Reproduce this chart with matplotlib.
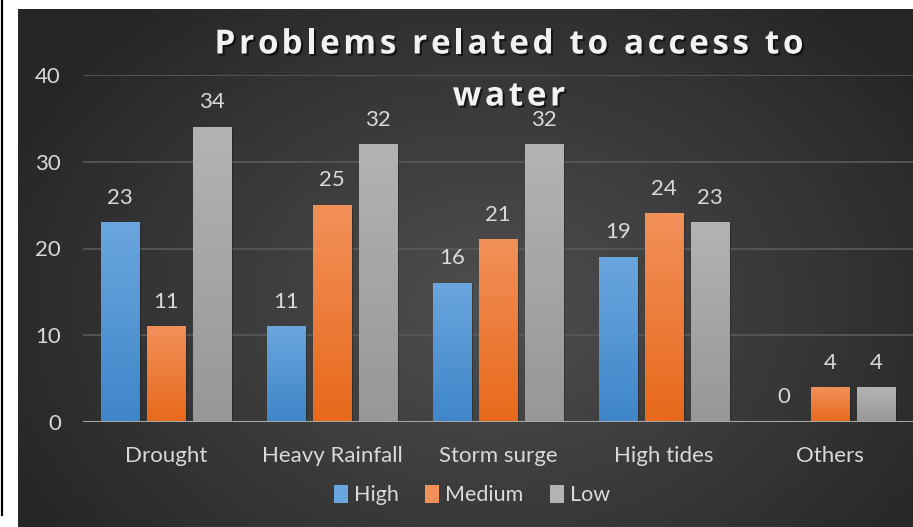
import matplotlib.pyplot as plt
import matplotlib.patheffects as pe
import numpy as np
from matplotlib.patches import Rectangle
from matplotlib.colors import LinearSegmentedColormap

plt.rcParams['font.family'] = ['Lato', 'DejaVu Sans']

categories = ['Drought', 'Heavy Rainfall', 'Storm surge', 'High tides', 'Others']
high = [23, 11, 16, 19, 0]
medium = [11, 25, 21, 24, 4]
low = [34, 32, 32, 23, 4]
series = [('High', high, '#6aa6de', '#3f86c9'),
          ('Medium', medium, '#f2905a', '#e8691b'),
          ('Low', low, '#b3b3b3', '#979797')]
title_lines = ['Problems related to access to', 'water']

W, H = 913, 527
fig = plt.figure(figsize=(W / 100, H / 100), dpi=100, facecolor='white')

# thin black rule at the left edge
fig.add_artist(plt.Line2D([1.5 / W, 1.5 / W], [1 - 515 / H, 1], color='black', lw=1.6))

# dark chart area with a radial gradient
bg = fig.add_axes([17.5 / W, 0, 1 - 17.5 / W, 1 - 9 / H])
bg.set_axis_off()
yy, xx = np.mgrid[0:518, 0:896]
r = np.sqrt(((xx - 470) / 560.0) ** 2 + ((yy - 300) / 420.0) ** 2)
shade = np.clip(0.31 - 0.17 * r, 0.15, 0.31)
bg.imshow(np.dstack([shade] * 3), aspect='auto', extent=[0, 1, 0, 1], origin='upper')
bg.set_xlim(0, 1)
bg.set_ylim(0, 1)

ax = fig.add_axes([83 / W, 1 - 422 / H, 1 - 83 / W, (422 - 75) / H])
ax.set_facecolor('none')
ax.set_xlim(-0.5, 4.5)
ax.set_ylim(0, 40)
ax.set_yticks([0, 10, 20, 30, 40])
ax.yaxis.grid(True, color='#5a5a5a', lw=1.2)
ax.set_axisbelow(True)
for s in ax.spines.values():
    s.set_visible(False)
ax.axhline(0, color='#a6a6a6', lw=2.2, zorder=4)
ax.tick_params(length=0, labelsize=16, colors='#d9d9d9')
ax.set_xticks(range(len(categories)))
ax.set_xticklabels(categories)
ax.tick_params(axis='x', pad=17)
ax.tick_params(axis='y', pad=16)

x = np.arange(len(categories))
width = 0.229
step = 0.277
grad = np.linspace(0, 1, 100).reshape(-1, 1)
for i, (name, vals, top, bot) in enumerate(series):
    xs = x + (i - 1) * step
    cmap = LinearSegmentedColormap.from_list(name, [bot, top])
    bars = ax.bar(xs, vals, width, color=top, label=name, zorder=3)
    for b, v in zip(bars, vals):
        bx, bw = b.get_x(), b.get_width()
        if v > 0:
            # soft shadow to the right of the bar
            ax.add_patch(Rectangle((bx + 0.012, 0), bw, v - 0.25, color='black',
                                   alpha=0.25, zorder=2.5, lw=0))
            ax.imshow(grad, cmap=cmap, aspect='auto', origin='lower',
                      extent=[bx, bx + bw, 0, v], zorder=3.1)
        ax.text(b.get_x() + bw / 2, v + 1.7, str(v), ha='center', va='bottom',
                fontsize=16, color='#d9d9d9', zorder=5)
ax.set_xlim(-0.5, 4.5)
ax.set_ylim(0, 40)

leg = fig.legend(loc='center', bbox_to_anchor=(472 / W, 1 - 495 / H), ncol=3,
                 frameon=False, fontsize=15.5, labelcolor='#d9d9d9',
                 handlelength=0.65, handleheight=0.9, handletextpad=0.3,
                 columnspacing=1.2)

# title with widened letter spacing, laid out char by char
renderer = fig.canvas.get_renderer()
tstyle = dict(fontsize=24, fontweight='bold', color='#f2f2f2',
              family=['Open Sans', 'DejaVu Sans'], va='center', ha='left',
              path_effects=[pe.withSimplePatchShadow(offset=(1.5, -1.5),
                                                     shadow_rgbFace='black', alpha=0.6)])
track = 3.6
for line, cy in zip(title_lines, [45, 97]):
    probe = fig.text(0, 0, line, **tstyle)
    full = probe.get_window_extent(renderer).width + track * (len(line) - 1)
    probe.remove()
    x0 = 509 - full / 2
    for k, ch in enumerate(line):
        if k:
            p = fig.text(0, 0, line[:k] + '|', **tstyle)
            q = fig.text(0, 0, '|', **tstyle)
            off = p.get_window_extent(renderer).width - q.get_window_extent(renderer).width
            p.remove()
            q.remove()
        else:
            off = 0
        fig.text((x0 + off + track * k) / W, 1 - cy / H, ch, **tstyle)

fig.savefig('out.png', dpi=100, facecolor='white')
